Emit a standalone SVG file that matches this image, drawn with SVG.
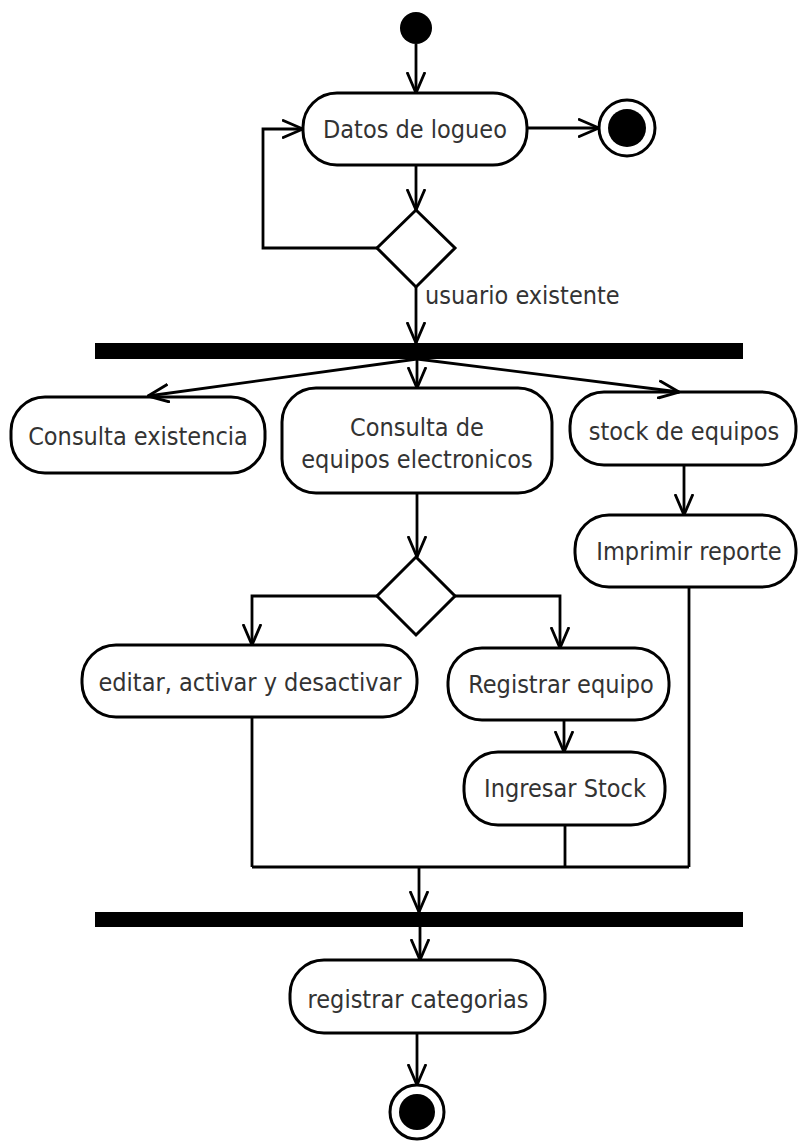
<svg xmlns="http://www.w3.org/2000/svg" width="798" height="1143" viewBox="0 0 798 1143">
<style>
.node{fill:#fff;stroke:#000;stroke-width:3}
.bar{fill:#000}
.lbl{font-family:"DejaVu Sans Condensed","DejaVu Sans",sans-serif;font-stretch:condensed;font-size:25px;fill:#333;text-anchor:middle}
.edge{fill:none;stroke:#000;stroke-width:2.8}
.arr{marker-end:url(#open)}
</style>
<defs>
<marker id="open" viewBox="0 0 22 20" refX="21" refY="10" markerWidth="22" markerHeight="20" markerUnits="userSpaceOnUse" orient="auto">
<path d="M0,1 L21,10 L0,19" fill="none" stroke="#000" stroke-width="2.8"/>
</marker>
</defs>
<rect width="798" height="1143" fill="#fff"/>
<g id="start"><circle cx="416" cy="28" r="16" fill="#000"/></g>
<g id="datos_logueo"><rect class="node" x="303" y="93" width="224" height="72" rx="34"/><text class="lbl" x="415" y="138">Datos de logueo</text></g>
<g id="final_top"><circle cx="627" cy="128" r="28" fill="#fff" stroke="#000" stroke-width="3"/><circle cx="627" cy="128" r="19" fill="#000"/></g>
<g id="decision_login"><polygon class="node" points="416,210 455,248 416,287 377,248"/></g>
<g id="fork"><rect class="bar" x="95" y="343" width="648" height="16"/></g>
<g id="consulta_existencia"><rect class="node" x="11" y="397" width="254" height="76" rx="34"/><text class="lbl" x="138" y="445">Consulta existencia</text></g>
<g id="consulta_equipos"><rect class="node" x="282" y="388" width="270" height="105" rx="34"/><text class="lbl" x="417" y="436">Consulta de</text><text class="lbl" x="417" y="468">equipos electronicos</text></g>
<g id="stock_equipos"><rect class="node" x="570" y="392" width="226" height="73" rx="34"/><text class="lbl" x="684" y="440">stock de equipos</text></g>
<g id="imprimir_reporte"><rect class="node" x="575" y="515" width="221" height="72" rx="34"/><text class="lbl" x="689" y="560">Imprimir reporte</text></g>
<g id="decision_equipos"><polygon class="node" points="416,557 455,596 416,635 377,596"/></g>
<g id="editar"><rect class="node" x="82" y="645" width="335" height="72" rx="34"/><text class="lbl" x="250" y="691">editar, activar y desactivar</text></g>
<g id="registrar_equipo"><rect class="node" x="448" y="648" width="221" height="72" rx="34"/><text class="lbl" x="561" y="693">Registrar equipo</text></g>
<g id="ingresar_stock"><rect class="node" x="464" y="752" width="201" height="73" rx="34"/><text class="lbl" x="565" y="797">Ingresar Stock</text></g>
<g id="join"><rect class="bar" x="95" y="912" width="648" height="15"/></g>
<g id="registrar_categorias"><rect class="node" x="290" y="960" width="255" height="73" rx="34"/><text class="lbl" x="418" y="1008">registrar categorias</text></g>
<g id="final_bottom"><circle cx="417" cy="1112" r="27" fill="#fff" stroke="#000" stroke-width="3"/><circle cx="417" cy="1112" r="18" fill="#000"/></g>
<g id="connectors">
<path class="edge arr" d="M416,44 L416,93"/>
<path class="edge arr" d="M527,128 L599,128"/>
<path class="edge arr" d="M416,165 L416,210"/>
<path class="edge arr" d="M377,248 H263 V129 H303"/>
<path class="edge arr" d="M416,287 L416,343"/>
<path class="edge arr" d="M417,359 L148,396"/>
<path class="edge arr" d="M417,359 L417,388"/>
<path class="edge arr" d="M417,359 L679,392"/>
<path class="edge arr" d="M684,465 L684,515"/>
<path class="edge arr" d="M417,493 L417,557"/>
<path class="edge arr" d="M377,596 H252 V645"/>
<path class="edge arr" d="M455,596 H560 V648"/>
<path class="edge arr" d="M564,720 V752"/>
<path class="edge" d="M252,717 V867 M565,825 V867 M689,587 V867 M252,867 H689"/>
<path class="edge arr" d="M419,867 V912"/>
<path class="edge arr" d="M420,927 V960"/>
<path class="edge arr" d="M417,1033 V1085"/>
<text class="lbl" x="425" y="304" style="text-anchor:start">usuario existente</text>
</g>
</svg>
